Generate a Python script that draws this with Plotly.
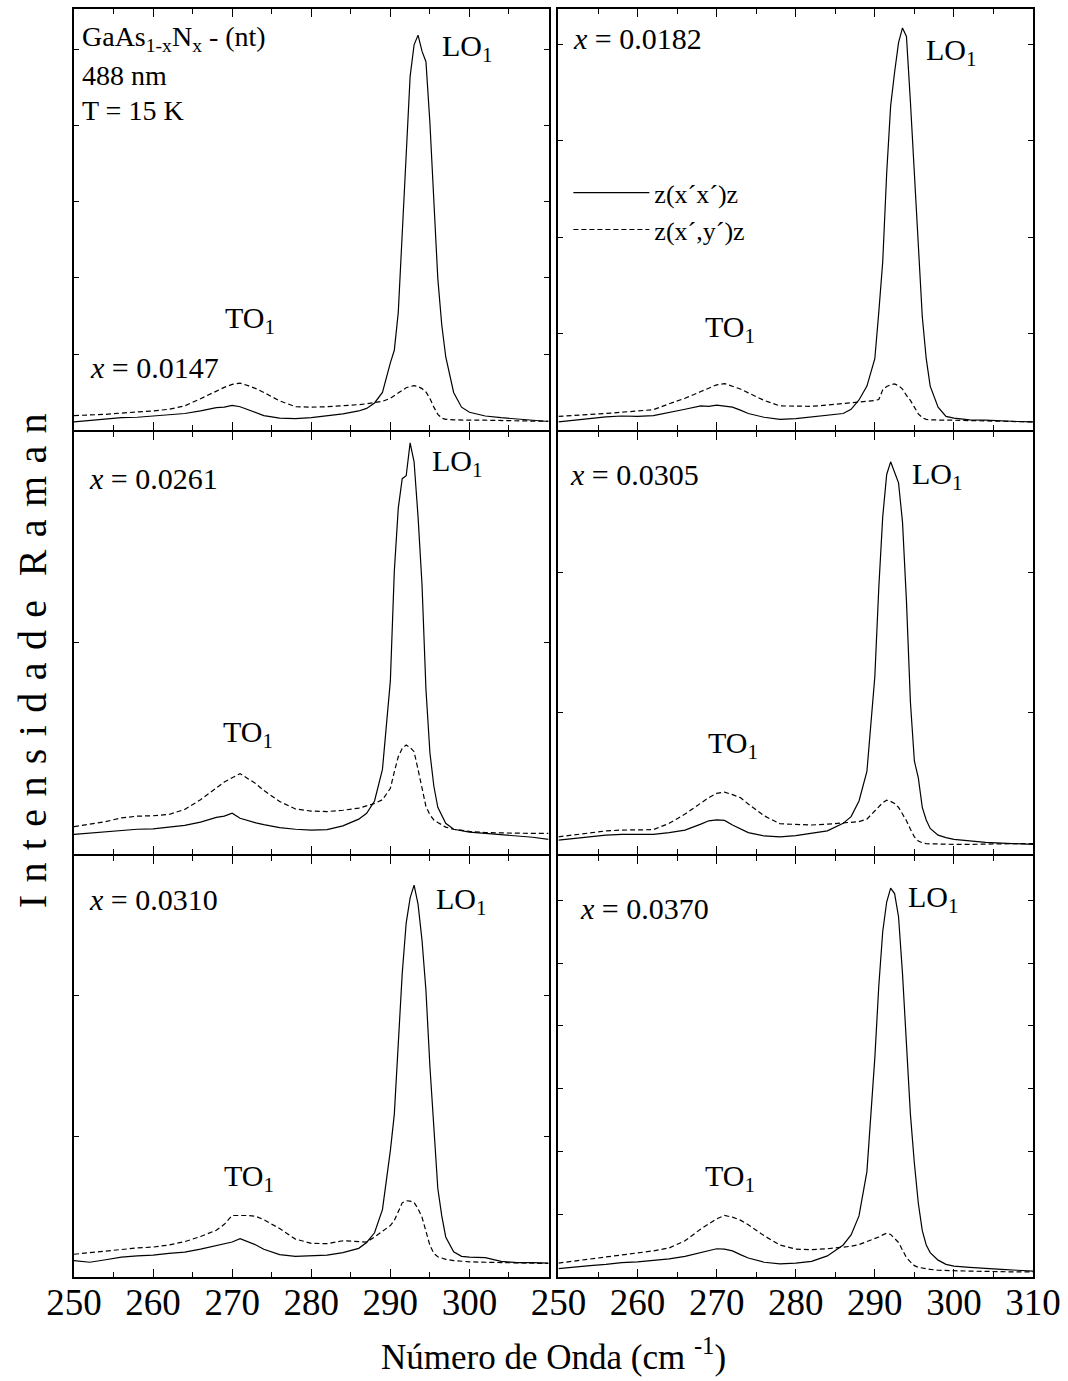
import plotly.graph_objects as go

# ---------------- data ----------------
wavenumber = [250, 252, 254, 256, 258, 260, 262, 264, 266, 268, 269, 270, 271, 272, 273, 274,
              276, 278, 280, 282, 284, 286, 287, 288, 289, 290, 290.5, 291, 291.5, 292, 292.5,
              293, 293.5, 294, 294.5, 295, 295.5, 296, 296.5, 297, 298, 299, 300, 302, 304,
              306, 308, 310]

compositions = ["0.0147", "0.0182", "0.0261", "0.0305", "0.0310", "0.0370"]

# z(x'x')z  (solid)   and   z(x',y')z  (dashed) ; intensity in % of panel height
xx_0147 = [2.0, 2.3, 2.6, 3.0, 3.1, 3.4, 3.7, 4.0, 4.6, 5.4, 5.5, 5.9, 5.6, 4.9, 4.1, 3.5,
           2.9, 2.8, 3.0, 3.4, 3.9, 4.6, 5.2, 6.5, 9.0, 16.0, 19.0, 28.0, 46.0, 66.0, 84.0,
           91.5, 93.8, 90.0, 87.5, 73.0, 54.0, 36.0, 25.0, 17.5, 9.0, 5.5, 4.3, 3.4, 3.0,
           2.7, 2.4, 2.1]
xy_0147 = [3.5, 3.6, 3.8, 4.1, 4.3, 4.6, 5.0, 5.8, 7.5, 9.3, 10.2, 10.9, 11.2, 10.6, 9.9, 9.0,
           7.0, 5.6, 5.5, 5.6, 5.8, 6.1, 6.3, 6.6, 6.9, 7.6, 8.2, 8.9, 9.6, 10.1, 10.4,
           10.6, 10.4, 9.9, 9.1, 7.6, 5.5, 3.8, 2.9, 2.6, 2.5, 2.4, 2.4, 2.4, 2.3,
           2.3, 2.2, 2.2]

xx_0182 = [2.0, 2.4, 2.8, 3.2, 3.4, 3.3, 3.5, 4.2, 5.0, 5.8, 5.7, 6.0, 5.8, 5.5, 4.8, 4.0,
           3.1, 2.6, 2.8, 3.2, 3.5, 4.0, 5.0, 7.2, 10.5, 17.0, 28.0, 40.0, 61.0, 77.0, 85.0,
           92.0, 95.5, 93.5, 78.0, 61.0, 43.0, 27.0, 17.0, 10.5, 5.5, 3.3, 2.9, 2.5, 2.4,
           2.2, 2.1, 2.0]
xy_0182 = [3.3, 3.5, 3.8, 4.0, 4.3, 4.6, 4.9, 6.3, 7.6, 9.2, 10.0, 10.8, 11.1, 10.5, 9.8, 8.9,
           7.1, 5.8, 5.7, 5.7, 6.0, 6.3, 6.5, 6.7, 6.9, 7.1, 7.3, 9.6, 10.4, 10.8, 11.0,
           10.6, 9.8, 8.3, 7.1, 5.5, 3.9, 3.0, 2.6, 2.5, 2.4, 2.4, 2.4, 2.3, 2.3,
           2.2, 2.1, 2.0]

xx_0261 = [4.6, 4.9, 5.3, 5.5, 5.8, 5.9, 6.3, 6.7, 7.5, 8.6, 8.9, 9.6, 8.4, 7.8, 7.3, 6.9,
           6.2, 5.8, 5.6, 5.7, 6.6, 8.2, 9.6, 12.5, 20.0, 41.0, 67.0, 82.0, 89.0, 89.7, 97.5,
           93.0, 80.0, 64.0, 39.0, 24.0, 16.0, 11.0, 9.0, 7.2, 5.8, 5.4, 5.1, 4.8, 4.5,
           4.2, 3.9, 3.4]
xy_0261 = [6.4, 7.0, 7.6, 8.5, 8.9, 9.0, 9.3, 10.5, 12.8, 15.6, 17.0, 18.0, 19.0, 17.8, 16.6, 15.0,
           12.4, 10.6, 10.1, 10.0, 10.3, 10.8, 11.4, 11.9, 12.8, 15.5, 19.4, 23.0, 25.0, 25.8, 25.2,
           24.2, 20.0, 15.5, 11.2, 9.2, 8.0, 7.4, 6.8, 6.3, 5.8, 5.5, 5.3, 5.0, 4.9,
           4.9, 4.8, 4.8]

xx_0305 = [3.2, 3.6, 4.0, 4.4, 4.6, 4.6, 4.6, 5.0, 5.6, 7.0, 7.8, 8.0, 7.9, 6.8, 5.8, 5.0,
           4.2, 4.0, 4.3, 4.8, 5.4, 7.2, 8.8, 12.5, 19.5, 42.0, 63.0, 80.0, 90.0, 93.0, 90.5,
           88.0, 78.7, 60.0, 36.0, 22.0, 18.0, 11.0, 8.0, 6.0, 4.4, 3.8, 3.4, 3.0, 2.7,
           2.5, 2.3, 2.2]
xy_0305 = [4.0, 4.5, 5.0, 5.4, 5.6, 5.6, 5.7, 7.2, 9.4, 12.0, 13.3, 14.3, 14.6, 14.0, 13.3, 11.8,
           9.0, 7.1, 6.9, 6.8, 7.0, 7.3, 7.4, 7.6, 8.2, 10.2, 11.2, 12.1, 12.7, 12.4, 11.9,
           11.0, 9.4, 7.8, 5.8, 4.0, 3.0, 2.6, 2.4, 2.3, 2.3, 2.2, 2.2, 2.2, 2.3,
           2.3, 2.4, 2.4]

xx_0310 = [3.9, 3.5, 4.1, 4.7, 5.0, 5.2, 5.6, 5.9, 6.6, 7.4, 7.8, 8.3, 9.1, 8.4, 7.6, 6.6,
           5.3, 4.9, 5.0, 5.2, 5.8, 6.8, 8.2, 10.5, 16.0, 30.0, 38.6, 55.0, 72.0, 84.0, 90.0,
           93.0, 88.5, 80.0, 68.0, 50.0, 35.0, 21.0, 14.5, 9.5, 6.0, 4.9, 4.7, 4.6, 3.7,
           3.4, 3.4, 3.3]
xy_0310 = [5.4, 5.8, 6.2, 6.6, 6.9, 7.1, 7.6, 8.4, 9.6, 11.1, 12.5, 14.6, 14.6, 14.6, 14.4, 13.6,
           11.5, 9.0, 8.0, 7.9, 8.6, 8.5, 8.3, 9.5, 10.8, 12.2, 13.4, 15.5, 17.6, 18.1, 18.0,
           17.7, 16.2, 14.2, 10.5, 7.5, 5.6, 4.8, 4.5, 4.2, 3.9, 3.7, 3.6, 3.5, 3.4,
           3.3, 3.2, 3.2]

xx_0370 = [2.0, 2.4, 2.7, 3.0, 3.4, 3.6, 3.9, 4.3, 4.9, 5.8, 6.3, 6.7, 6.6, 6.2, 5.3, 4.5,
           3.5, 3.1, 3.3, 3.7, 5.0, 7.6, 10.0, 14.5, 25.0, 52.0, 69.0, 82.0, 89.0, 92.3, 91.0,
           85.5, 72.0, 56.0, 38.6, 27.0, 17.5, 11.0, 7.6, 5.8, 4.0, 3.0, 2.6, 2.3, 2.0,
           1.8, 1.6, 1.4]
xy_0370 = [3.3, 3.8, 4.3, 4.8, 5.3, 5.7, 6.2, 6.9, 8.6, 11.4, 12.7, 13.8, 14.6, 14.2, 13.5, 12.4,
           9.8, 7.6, 6.6, 6.5, 6.7, 7.0, 7.3, 7.7, 8.4, 9.0, 9.5, 10.0, 10.4, 10.1, 9.2,
           8.2, 6.4, 4.6, 3.6, 2.7, 2.3, 2.1, 1.9, 1.8, 1.6, 1.5, 1.5, 1.4, 1.3,
           1.3, 1.2, 1.2]

parallel = [xx_0147, xx_0182, xx_0261, xx_0305, xx_0310, xx_0370]
crossed = [xy_0147, xy_0182, xy_0261, xy_0305, xy_0310, xy_0370]

x_ticks_left = [250, 260, 270, 280, 290, 300]
x_ticks_right = [250, 260, 270, 280, 290, 300, 310]
y_tick_step = [18.1, 22.9, 50.2, 33.4, 33.4, 14.9]

legend_names = ["z(x\u00b4x\u00b4)z", "z(x\u00b4,y\u00b4)z"]

# ---------------- figure ----------------
FONT = "Liberation Serif, Times New Roman, serif"
W, H = 1068, 1381
ML, MR, MT, MB = 74, 28, 7, 104
PW = W - ML - MR           # 966
PH = H - MT - MB           # 1270
LW = 2                     # frame line width
gapx = 10 / PW
colw = (PW - 10) / 2 / PW
x_domains = [[0.0, colw], [colw + gapx, 1.0]]
rowh = (PH - 2 * LW) / 3 / PH
g = LW / PH
y_domains = [[1 - rowh, 1.0], [1 - 2 * rowh - g, 1 - rowh - g], [0.0, rowh]]

fig = go.Figure()
for i in range(6):
    ax = "" if i == 0 else str(i + 1)
    show_leg = (i == 1)
    fig.add_trace(go.Scatter(x=wavenumber, y=parallel[i], mode="lines",
                             line=dict(color="black", width=1.2),
                             name=legend_names[0], showlegend=show_leg,
                             xaxis="x" + ax, yaxis="y" + ax))
    fig.add_trace(go.Scatter(x=wavenumber, y=crossed[i], mode="lines",
                             line=dict(color="black", width=1.2, dash="5px,3px"),
                             name=legend_names[1], showlegend=show_leg,
                             xaxis="x" + ax, yaxis="y" + ax))

layout = {}
for i in range(6):
    col = i % 2
    row = i // 2
    ax = "" if i == 0 else str(i + 1)
    bottom = (row == 2)
    tv = x_ticks_right if col == 1 else x_ticks_left
    layout["xaxis" + ax] = dict(
        domain=x_domains[col], anchor="y" + ax, range=[250, 310],
        showline=True, linecolor="black", linewidth=LW, mirror="allticks",
        ticks="inside", ticklen=8, tickwidth=1.2, tickcolor="black",
        tickvals=tv, showticklabels=bottom, ticklabelstandoff=-8,
        tickfont=dict(family=FONT, size=37, color="black"),
        minor=dict(dtick=5, tick0=250, ticks="inside", ticklen=5, tickwidth=1.2,
                   tickcolor="black", showgrid=False),
        showgrid=False, zeroline=False, fixedrange=True,
    )
    layout["yaxis" + ax] = dict(
        domain=y_domains[row], anchor="x" + ax, range=[0, 100],
        showline=True, linecolor="black", linewidth=LW, mirror="allticks",
        ticks="inside", ticklen=5, tickwidth=1.2, tickcolor="black",
        tick0=0, dtick=y_tick_step[i], showticklabels=False,
        showgrid=False, zeroline=False, fixedrange=True,
    )

ann = []
def label(i, x, y, text, size=30):
    ax = "" if i == 0 else str(i + 1)
    ann.append(dict(x=x, y=y, xref="x" + ax, yref="y" + ax, text=text, showarrow=False,
                    xanchor="left", yanchor="middle",
                    font=dict(family=FONT, size=size, color="black")))

# panel 1 header
label(0, 250.7, 93.0, "GaAs<sub>1-x</sub>N<sub>x</sub> - (nt)", 28)
label(0, 250.7, 84.3, "488 nm", 28)
label(0, 250.7, 75.8, "T = 15 K", 28)

x_label_pos = [(251.8, 14.8), (251.6, 93.0), (251.6, 89.0), (251.2, 89.9), (251.6, 89.7), (252.5, 87.5)]
lo_pos = [(296.3, 90.7), (296.2, 89.7), (295.0, 92.7), (294.4, 89.7), (295.5, 89.2), (293.9, 89.7)]
to_pos = [(268.9, 26.2), (268.3, 24.0), (268.6, 28.5), (268.7, 25.7), (268.7, 23.5), (268.3, 23.5)]

for i in range(6):
    label(i, x_label_pos[i][0], x_label_pos[i][1], "<i>x</i> = " + compositions[i])
    label(i, lo_pos[i][0], lo_pos[i][1], "LO<sub>1</sub>")
    label(i, to_pos[i][0], to_pos[i][1], "TO<sub>1</sub>")

# axis titles
ann.append(dict(x=0.5, y=-0.0614, xref="paper", yref="paper", showarrow=False,
                text="Número de Onda (cm <sup>-1</sup>)", xanchor="center", yanchor="middle",
                font=dict(family=FONT, size=35, color="black")))
ann.append(dict(x=-0.0424, y=0.4866, xref="paper", yref="paper", showarrow=False,
                text='<span style="letter-spacing:1.2px">I n t e n s i d a d e \u00a0R a m a n</span>',
                textangle=-90, xanchor="center", yanchor="middle",
                font=dict(family=FONT, size=40, color="black")))

fig.update_layout(
    width=W, height=H, autosize=False,
    margin=dict(l=ML, r=MR, t=MT, b=MB),
    paper_bgcolor="white", plot_bgcolor="white",
    annotations=ann,
    showlegend=True,
    legend=dict(x=0.5155, y=0.8736, xanchor="left", yanchor="top",
                bgcolor="rgba(0,0,0,0)", borderwidth=0, itemwidth=76,
                font=dict(family=FONT, size=26, color="black"),
                tracegroupgap=0),
    **layout,
)

fig.write_html("out.html",
               config={"responsive": False, "displayModeBar": False},
               post_script="document.body.style.margin='0px';"
                           "document.body.style.overflow='hidden';")
